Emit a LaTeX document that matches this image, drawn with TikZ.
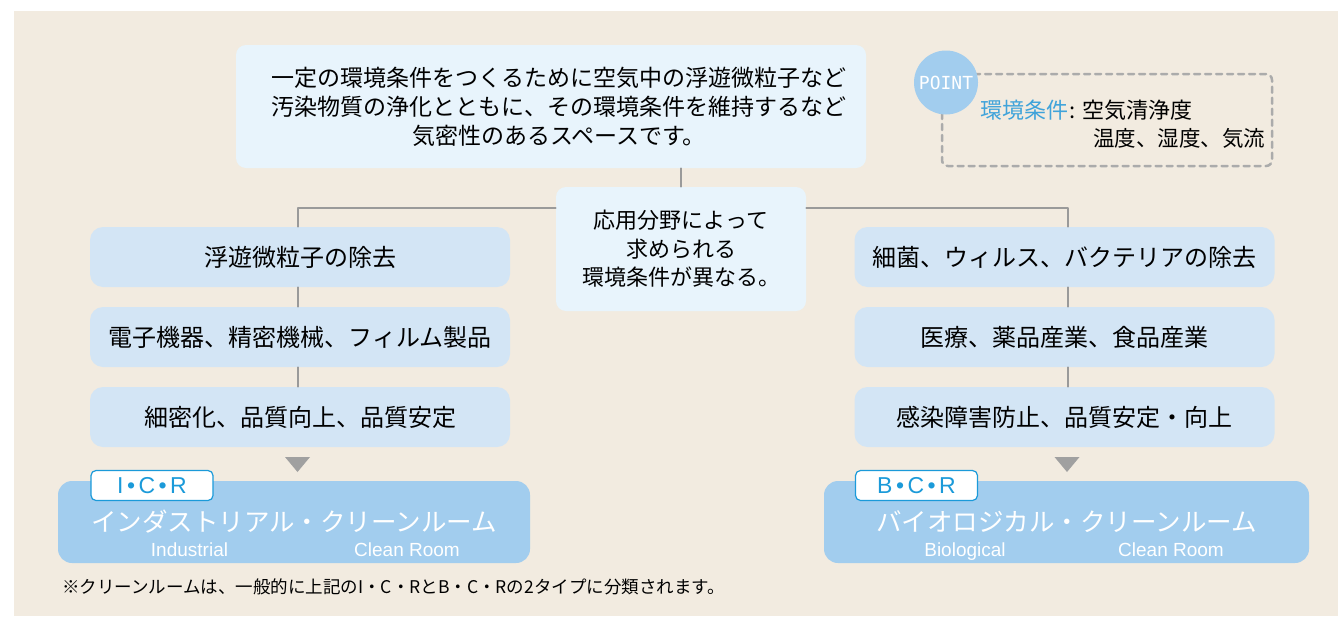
\documentclass[tikz,border=0pt]{standalone}
\usepackage{fontspec}
\setmainfont{Noto Sans CJK JP}
\newfontfamily\latinfont{Liberation Sans}
\newfontfamily\pointfont{DejaVu Sans Mono}
\usetikzlibrary{positioning}

\definecolor{bgbeige}{HTML}{F2EBE0}
\definecolor{paleblue}{HTML}{E8F4FC}
\definecolor{fieldblue}{HTML}{D3E5F5}
\definecolor{roomblue}{HTML}{A2CDEE}
\definecolor{tagblue}{HTML}{1B9AD9}
\definecolor{keyblue}{HTML}{3FA3DA}
\definecolor{linegray}{HTML}{9A9A9A}
\definecolor{dashgray}{HTML}{ABABAB}
\definecolor{markgray}{HTML}{A0A0A0}

\newcommand{\tagdot}{\kern3.5pt•\kern3.5pt}

\begin{document}
\begin{tikzpicture}[x=1pt,y=-1pt,line cap=round,line join=round,
  infobox/.style={fill=paleblue,rounded corners=10pt,align=center,inner sep=0pt},
  fieldbox/.style={fill=fieldblue,rounded corners=13pt,minimum width=420pt,
    minimum height=60pt,inner sep=0pt,font=\fontsize{24}{29}\selectfont},
  roombox/.style={fill=roomblue,rounded corners=14pt,minimum height=82pt,
    inner sep=0pt,text=white,font=\fontsize{25.5}{30}\selectfont},
  tagbox/.style={draw=tagblue,line width=1.2pt,fill=white,rounded corners=5pt,
    minimum width=122pt,minimum height=30pt,inner sep=0pt,text=tagblue,
    font=\latinfont\fontsize{23}{23}\selectfont},
  sublabel/.style={text=white,inner sep=0pt,anchor=base,
    font=\latinfont\fontsize{19}{19}\selectfont},
  conn/.style={draw=linegray,line width=1.5pt},
  marker/.style={fill=markgray}]
  \useasboundingbox (0,0) rectangle (1338,616);
  \fill[bgbeige] (14,11) rectangle (1338,616);

  % 上の説明と中央の箱
  \node[infobox,minimum width=630pt,minimum height=123pt,
    font=\fontsize{23}{29}\selectfont] (purpose) at (551,106.5)
    {\hspace*{16pt}一定の環境条件をつくるために空気中の浮遊微粒子など\\
     \hspace*{16pt}汚染物質の浄化とともに、その環境条件を維持するなど\\
     \hspace*{16pt}気密性のあるスペースです。};
  \node[infobox,minimum width=250pt,minimum height=124pt,
    font=\fontsize{22}{28.5}\selectfont] (mid) at (681,249)
    {応用分野によって\\求められる\\環境条件が異なる。};

  % POINT
  \draw[dashgray,line width=2.5pt,dash pattern=on 6pt off 5pt,rounded corners=6pt]
    (942,74) rectangle (1272,166);
  \node[circle,fill=roomblue,minimum size=64pt,inner sep=0pt,text=white,
    font=\pointfont\fontsize{18}{18}\selectfont] (point) at (946,82.5) {POINT};
  \node[anchor=west,inner sep=0pt,font=\fontsize{22}{22}\selectfont] (cond1) at (980,110)
    {\textcolor{keyblue}{環境条件}\hspace{1pt}:\hspace{7pt}空気清浄度};
  \node[anchor=west,inner sep=0pt,font=\fontsize{21.5}{22}\selectfont] (cond2) at (1093,138)
    {温度、湿度、気流};

  % 左右の列
  \node[fieldbox] (fL1) at (300,257) {浮遊微粒子の除去};
  \node[fieldbox] (fL2) at (300,337) {電子機器、精密機械、フィルム製品};
  \node[fieldbox] (fL3) at (300,417) {細密化、品質向上、品質安定};
  \node[fieldbox] (fR1) at (1064.5,257) {細菌、ウィルス、バクテリアの除去};
  \node[fieldbox] (fR2) at (1064.5,337) {医療、薬品産業、食品産業};
  \node[fieldbox] (fR3) at (1064.5,417) {感染障害防止、品質安定・向上};

  \coordinate (jL) at (298,208);
  \coordinate (jR) at (1068,208);
  \draw[conn] (mid.north) -- (mid.north |- purpose.south);
  \draw[conn] (mid.west |- jL) -- (jL) -- (jL |- fL1.north);
  \draw[conn] (mid.east |- jR) -- (jR) -- (jR |- fR1.north);
  \foreach \s in {L,R}
    \foreach \a/\b in {1/2,2/3}
      \draw[conn] (j\s |- f\s\a.south) -- (j\s |- f\s\b.north);

  % 三角
  \coordinate (tL) at (297.5,457);
  \coordinate (tR) at (1067,457);
  \foreach \t in {tL,tR}
    \fill[marker] (\t) ++(-12.5,0) -- ++(25,0) -- ++(-12.5,15) -- cycle;

  % クリーンルーム
  \node[roombox,minimum width=472pt] (icr) at (294,522)
    {\raisebox{-1pt}{インダストリアル・クリーンルーム}};
  \node[roombox,minimum width=485pt] (bcr) at (1066.5,522)
    {\raisebox{-1pt}{バイオロジカル・クリーンルーム}};
  \node[tagbox] (icrTag) at (152,485.5) {I\tagdot C\tagdot R};
  \node[tagbox] (bcrTag) at (916.5,485.5) {B\tagdot C\tagdot R};
  \node[sublabel] (icrSub1) at (189.5,556) {Industrial};
  \node[sublabel] (icrSub2) at (407,556) {Clean Room};
  \node[sublabel] (bcrSub1) at (965,556) {Biological};
  \node[sublabel] (bcrSub2) at (1171,556) {Clean Room};

  \node[anchor=west,inner sep=0pt,font=\fontsize{17.5}{17.5}\selectfont] (note) at (62,587)
    {※クリーンルームは、一般的に上記のI・C・RとB・C・Rの2タイプに分類されます。};
\end{tikzpicture}
\end{document}
